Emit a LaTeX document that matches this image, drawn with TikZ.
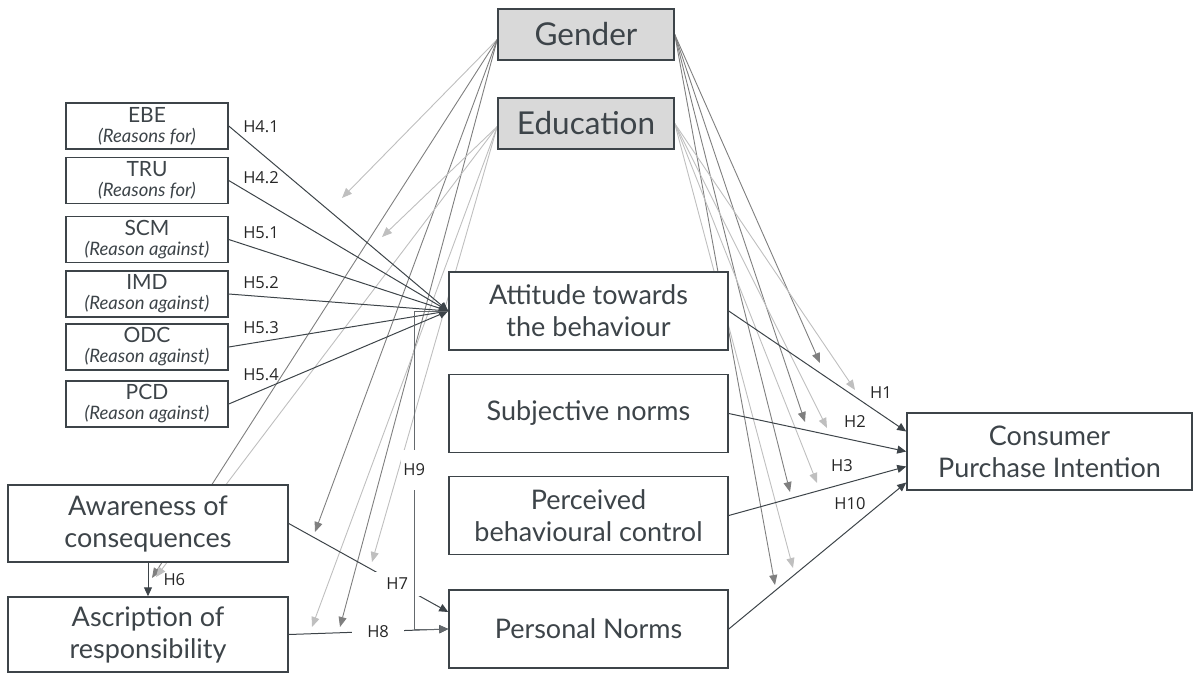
\documentclass[tikz,border=0pt]{standalone}
\usepackage{fontspec}
\setmainfont{Lato}
\newfontfamily\lblfont{Open Sans}
\usetikzlibrary{arrows.meta,positioning,backgrounds}
\definecolor{inkc}{HTML}{3D4449}
\definecolor{moddark}{HTML}{7F7F7F}
\definecolor{modlight}{HTML}{BFBFBF}
\definecolor{ctrlfill}{HTML}{D9D9D9}

\begin{document}
\begin{tikzpicture}[
  x=1pt, y=-1pt,
  box/.style={draw=inkc, line width=1.5pt, fill=white, text=inkc, align=center, inner sep=0pt},
  construct/.style={box, minimum width=279pt, minimum height=78pt, font=\fontsize{27}{32}\selectfont},
  reason/.style={box, minimum width=162pt, minimum height=46pt, font=\fontsize{21}{20}\selectfont},
  control/.style={box, fill=ctrlfill, minimum width=176pt, minimum height=51pt, font=\fontsize{31.5}{32}\selectfont},
  hlbl/.style={text=black!85, font=\lblfont\fontsize{16.5}{17}\selectfont, inner sep=1pt},
  gaplbl/.style={hlbl, fill=white},
  link/.style={draw=inkc, line width=1pt, -{Triangle[length=9pt,width=8pt]}},
  modg/.style={draw=moddark, line width=0.9pt, -{Triangle[length=10pt,width=8pt]}},
  modl/.style={draw=modlight, line width=0.9pt, -{Triangle[length=10pt,width=8pt]}}
]
\useasboundingbox (0,0) rectangle (1195,673);

% moderators
\node[control] (gender) at (586,34.5) {Gender};
\node[control] (education) at (586,123.5) {Education};

% reasons for / against
\node[reason] (ebe) at (147,126) {EBE\\{\fontsize{18.5}{20}\selectfont\itshape (Reasons for)}};
\node[reason] (tru) at (147,180.5) {TRU\\{\fontsize{18.5}{20}\selectfont\itshape (Reasons for)}};
\node[reason] (scm) at (147,239.5) {SCM\\{\fontsize{18.5}{20}\selectfont\itshape (Reason against)}};
\node[reason] (imd) at (147,294) {IMD\\{\fontsize{18.5}{20}\selectfont\itshape (Reason against)}};
\node[reason] (odc) at (147,347) {ODC\\{\fontsize{18.5}{20}\selectfont\itshape (Reason against)}};
\node[reason] (pcd) at (147,404) {PCD\\{\fontsize{18.5}{20}\selectfont\itshape (Reason against)}};

% constructs
\node[construct] (att) at (588.5,311) {Attitude towards\\the behaviour};
\node[construct] (sn) at (588.5,413.5) {Subjective norms};
\node[construct] (pbc) at (588.5,515.5) {Perceived\\behavioural control};
\node[construct] (pn) at (588.5,629) {Personal Norms};
\node[construct, minimum width=285pt, minimum height=77pt] (cpi) at (1049.5,451.5) {Consumer\\Purchase Intention};
\node[construct, minimum width=280pt, minimum height=77pt] (aw) at (148,523.5) {Awareness of\\consequences};
\node[construct, minimum width=280pt, minimum height=75pt] (ar) at (148,634.5) {Ascription of\\responsibility};

% hypotheses H4, H5
\draw[link] (ebe.east) -- (att.west);
\draw[link] (tru.east) -- (att.west);
\draw[link] (scm.east) -- (att.west);
\draw[link] (imd.east) -- (att.west);
\draw[link] (odc.east) -- (att.west);
\draw[link] (pcd.east) -- (att.west);
\node[hlbl] (h41) at (261,127) {H4.1};
\node[hlbl] (h42) at (261,178) {H4.2};
\node[hlbl] (h51) at (261,233) {H5.1};
\node[hlbl] (h52) at (261,283) {H5.2};
\node[hlbl] (h53) at (261,328) {H5.3};
\node[hlbl] (h54) at (261,375) {H5.4};

% hypotheses H1-H3, H10
\draw[link] (att.east) -- ([yshift=20pt]cpi.west);
\draw[link] (sn.east) -- (cpi.west);
\draw[link] (pbc.east) -- ([yshift=-15pt]cpi.west);
\draw[link] (pn.east) -- ([yshift=-31pt]cpi.west);
\node[hlbl] (h1) at (881,393) {H1};
\node[hlbl] (h2) at (855,422) {H2};
\node[hlbl] (h3) at (842,466) {H3};
\node[hlbl] (h10) at (850,504) {H10};

% hypotheses H6-H9
\draw[link] (aw.south) -- node[hlbl, right=14pt] (h6) {H6} (ar.north);
\draw[link] (aw.east) -- node[gaplbl, pos=.68, inner xsep=14pt, inner ysep=6pt] (h7) {H7} ([yshift=17pt]pn.west);
\draw[link] (ar.east) -- node[gaplbl, pos=.56, inner xsep=15pt, inner ysep=2pt] (h8) {H8} (pn.west);
\draw[link, draw=inkc!80] (att.west) -- ++(-34,0) |- node[gaplbl, pos=.25, inner xsep=2pt, inner ysep=14pt] (h9) {H9} (pn.west);

% moderating arrows
\coordinate (mh4g) at (342,198);
\coordinate (mh4e) at (382,237);
\coordinate (mh6g) at (152,578);
\coordinate (mh6e) at (156,577);
\coordinate (mh7g) at (315,532);
\coordinate (mh7e) at (372,562);
\coordinate (mh8g) at (340,627);
\coordinate (mh8e) at (312,627);
\coordinate (mh1g) at (820,363);
\coordinate (mh1e) at (855,390);
\coordinate (mh2g) at (805,422);
\coordinate (mh2e) at (827,428);
\coordinate (mh3g) at (790,492);
\coordinate (mh3e) at (817,483);
\coordinate (mh10g) at (775,585);
\coordinate (mh10e) at (793,568);
\begin{scope}[on background layer]
\draw[modl] ([yshift=-5pt]gender.west) -- (mh4g);
\draw[modg] ([yshift=-5pt]gender.west) -- (mh6g);
\draw[modg] ([yshift=-5pt]gender.west) -- (mh7g);
\draw[modg] ([yshift=-5pt]gender.west) -- (mh8g);
\draw[modl] ([yshift=-3pt]education.west) -- (mh4e);
\draw[modl] ([yshift=-3pt]education.west) -- (mh6e);
\draw[modl] ([yshift=-3pt]education.west) -- (mh7e);
\draw[modl] ([yshift=-3pt]education.west) -- (mh8e);
\draw[modg] (gender.east) -- (mh1g);
\draw[modg] (gender.east) -- (mh2g);
\draw[modg] (gender.east) -- (mh3g);
\draw[modg] (gender.east) -- (mh10g);
\draw[modl] (education.east) -- (mh1e);
\draw[modl] (education.east) -- (mh2e);
\draw[modl] (education.east) -- (mh3e);
\draw[modl] (education.east) -- (mh10e);
\end{scope}
\end{tikzpicture}
\end{document}
